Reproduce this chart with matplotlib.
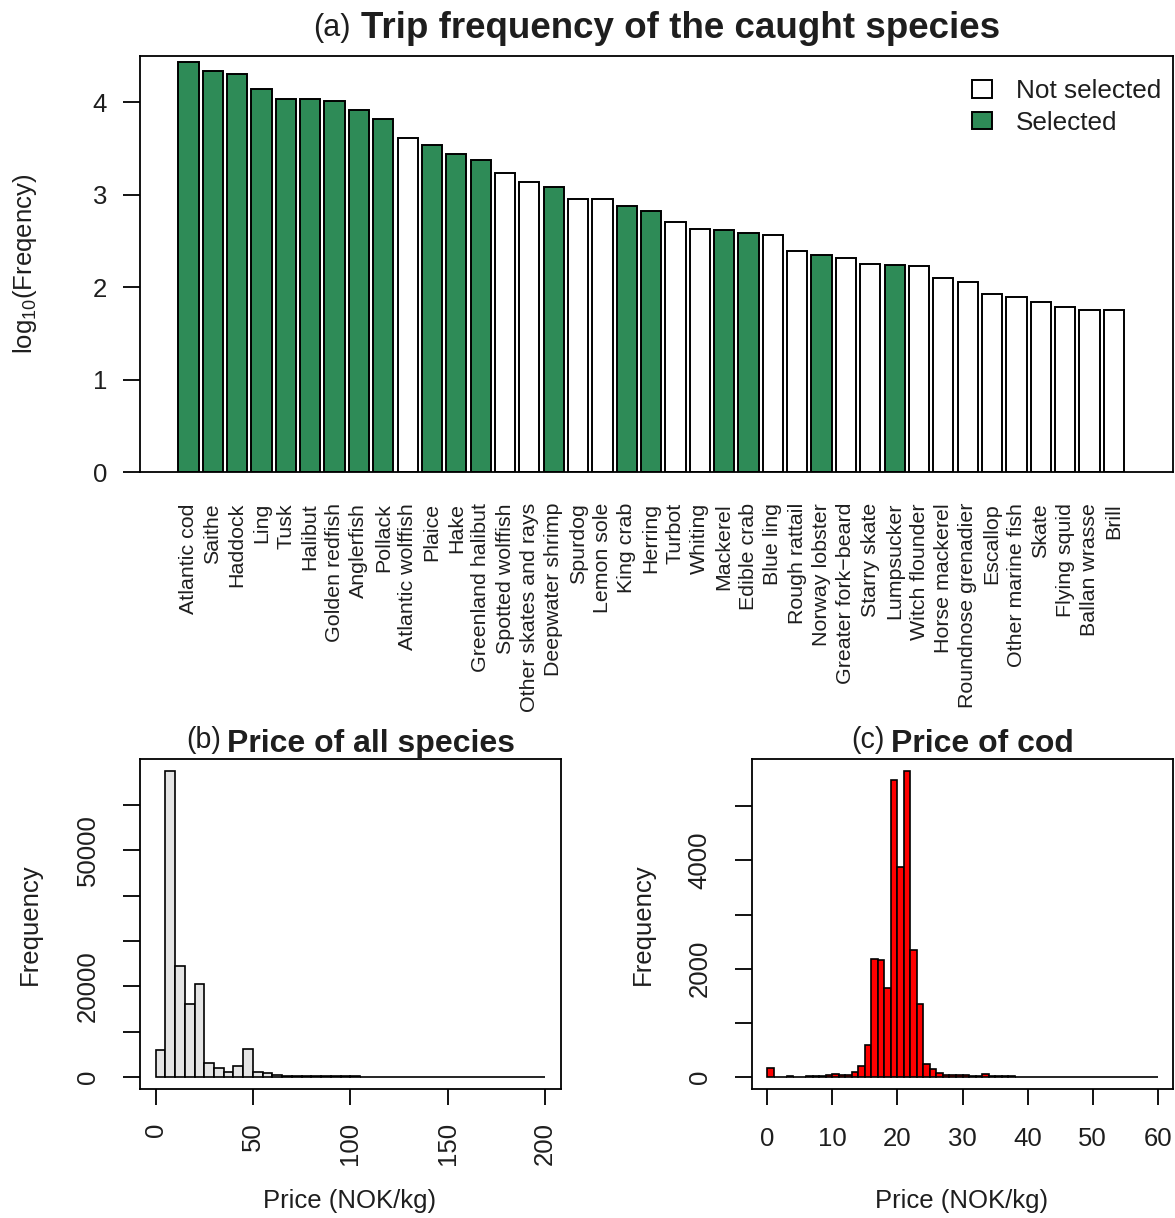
import numpy as np
import matplotlib
matplotlib.use('Agg')
import matplotlib.pyplot as plt
from matplotlib.patches import Patch

# ---------------- data ----------------
species = ["Atlantic cod", "Saithe", "Haddock", "Ling", "Tusk", "Halibut",
           "Golden redfish", "Anglerfish", "Pollack", "Atlantic wolffish",
           "Plaice", "Hake", "Greenland halibut", "Spotted wolffish",
           "Other skates and rays", "Deepwater shrimp", "Spurdog", "Lemon sole",
           "King crab", "Herring", "Turbot", "Whiting", "Mackerel", "Edible crab",
           "Blue ling", "Rough rattail", "Norway lobster", "Greater fork\u2212beard",
           "Starry skate", "Lumpsucker", "Witch flounder", "Horse mackerel",
           "Roundnose grenadier", "Escallop", "Other marine fish", "Skate",
           "Flying squid", "Ballan wrasse", "Brill"]
log_freq = [4.43, 4.34, 4.30, 4.14, 4.04, 4.03, 4.01, 3.92, 3.82, 3.61,
            3.54, 3.44, 3.37, 3.23, 3.14, 3.08, 2.95, 2.95, 2.88, 2.82,
            2.70, 2.63, 2.62, 2.58, 2.56, 2.39, 2.35, 2.32, 2.25, 2.24,
            2.23, 2.10, 2.06, 1.93, 1.89, 1.84, 1.78, 1.75, 1.75]
selected = [1, 1, 1, 1, 1, 1, 1, 1, 1, 0,
            1, 1, 1, 0, 0, 1, 0, 0, 1, 1,
            0, 0, 1, 1, 0, 0, 1, 0, 0, 1,
            0, 0, 0, 0, 0, 0, 0, 0, 0]
legend_labels = ["Not selected", "Selected"]

all_edges = list(range(0, 205, 5))
all_counts = [5860, 67400, 24540, 16040, 20510, 3150, 2050, 1030, 2340, 6080,
              1170, 800, 350, 280, 250, 200, 180, 220, 150, 160,
              200, 100, 120, 90, 80, 70, 60, 60, 50, 50,
              40, 40, 40, 35, 30, 30, 40, 120, 50, 40]

cod_edges = list(range(0, 61, 1))
cod_counts = [172, 5, 10, 12, 8, 10, 12, 15, 20, 30,
              55, 30, 40, 88, 197, 590, 2185, 2155, 1640, 5490,
              3870, 5645, 2350, 1345, 248, 155, 80, 37, 30, 45,
              35, 28, 22, 65, 20, 15, 12, 12, 10, 10,
              10, 9, 8, 8, 8, 7, 7, 6, 6, 6,
              6, 5, 5, 5, 5, 4, 4, 4, 4, 4]

all_yticks = [0, 10000, 20000, 30000, 40000, 50000, 60000]
all_yticklabels = ["0", "", "20000", "", "", "50000", ""]
all_xticks = [0, 50, 100, 150, 200]
cod_yticks = [0, 1000, 2000, 3000, 4000, 5000]
cod_yticklabels = ["0", "", "2000", "", "4000", ""]
cod_xticks = [0, 10, 20, 30, 40, 50, 60]

# ---------------- style ----------------
plt.rcParams['font.family'] = ['Liberation Sans', 'DejaVu Sans']
plt.rcParams['mathtext.fontset'] = 'custom'
plt.rcParams['mathtext.rm'] = 'Liberation Sans'
plt.rcParams['mathtext.it'] = 'Liberation Sans:italic'
plt.rcParams['mathtext.bf'] = 'Liberation Sans:bold'
TXT = '#1e1e1e'
GREEN = '#2E8B57'
W, H = 1175, 1218
PX = 0.72  # points per pixel at 100 dpi

fig = plt.figure(figsize=(W / 100, H / 100), dpi=100)


def axpos(l, t, r, b):
    return [l / W, 1 - b / H, (r - l) / W, (b - t) / H]


def style_spines(ax):
    for s in ax.spines.values():
        s.set_linewidth(1.3)
        s.set_color('black')


# ---------------- panel (a) ----------------
axA = fig.add_axes(axpos(140, 56, 1173, 472))
xpos = np.arange(len(species))
cols = [GREEN if s else 'white' for s in selected]
axA.bar(xpos, log_freq, width=0.83, color=cols, edgecolor='black', linewidth=1.4)
axA.set_xlim(-1.99, 40.43)
axA.set_ylim(0, 4.5)
axA.set_xticks(xpos)
axA.set_xticklabels(species, rotation=90, fontsize=15.4, color=TXT)
axA.tick_params(axis='x', length=0, pad=31 * PX)
axA.set_yticks([0, 1, 2, 3, 4])
axA.tick_params(axis='y', length=17 * PX, width=1.3, labelsize=18.5,
                labelcolor=TXT, pad=16 * PX)
style_spines(axA)
handles = [Patch(facecolor='white', edgecolor='black', linewidth=1.4),
           Patch(facecolor=GREEN, edgecolor='black', linewidth=1.4)]
axA.legend(handles, legend_labels, loc='upper left',
           bbox_to_anchor=((972 - 140) / 1033, (472 - 79) / 416),
           frameon=False, fontsize=18.8, handlelength=0.77, handleheight=0.65,
           handletextpad=0.9, borderpad=0, borderaxespad=0, labelspacing=0.3,
           labelcolor=TXT)
fig.text(25 / W, 1 - 264 / H, r'log$_{10}$(Freqency)', rotation=90,
         ha='center', va='center', fontsize=18.5, color=TXT)

# ---------------- panel (b) ----------------
axB = fig.add_axes(axpos(140, 759, 560.7, 1089.3))
axB.hist(all_edges[:-1], bins=all_edges, weights=all_counts,
         color='#E5E5E5', edgecolor='black', linewidth=1.2)
mB = max(all_counts)
axB.set_ylim(-0.04 * mB, 1.04 * mB)
rB = all_edges[-1] - all_edges[0]
axB.set_xlim(all_edges[0] - 0.04 * rB, all_edges[-1] + 0.04 * rB)
axB.set_yticks(all_yticks)
axB.set_yticklabels(all_yticklabels)
axB.set_xticks(all_xticks)
axB.tick_params(axis='y', labelrotation=90, length=17 * PX, width=1.3,
                labelsize=18.5, labelcolor=TXT, pad=23 * PX)
axB.tick_params(axis='x', labelrotation=90, length=16 * PX, width=1.3,
                labelsize=18.5, labelcolor=TXT, pad=17 * PX)
for lab in axB.get_yticklabels():
    lab.set_va('center')
style_spines(axB)
fig.text(30 / W, 1 - 924 / H, 'Frequency', rotation=90,
         ha='center', va='center', fontsize=18.5, color=TXT)
fig.text(350 / W, 1 - 1201 / H, 'Price (NOK/kg)', ha='center', va='center',
         fontsize=18.5, color=TXT)

# ---------------- panel (c) ----------------
axC = fig.add_axes(axpos(751.7, 759, 1173.3, 1089.3))
axC.hist(cod_edges[:-1], bins=cod_edges, weights=cod_counts,
         color='#FF0000', edgecolor='black', linewidth=1.2)
mC = max(cod_counts)
axC.set_ylim(-0.04 * mC, 1.04 * mC)
rC = cod_edges[-1] - cod_edges[0]
axC.set_xlim(cod_edges[0] - 0.04 * rC, cod_edges[-1] + 0.04 * rC)
axC.set_yticks(cod_yticks)
axC.set_yticklabels(cod_yticklabels)
axC.set_xticks(cod_xticks)
axC.tick_params(axis='y', labelrotation=90, length=17 * PX, width=1.3,
                labelsize=18.5, labelcolor=TXT, pad=23 * PX)
axC.tick_params(axis='x', length=16 * PX, width=1.3,
                labelsize=18.5, labelcolor=TXT, pad=22 * PX)
for lab in axC.get_yticklabels():
    lab.set_va('center')
style_spines(axC)
fig.text(643 / W, 1 - 924 / H, 'Frequency', rotation=90,
         ha='center', va='center', fontsize=18.5, color=TXT)
fig.text(962 / W, 1 - 1201 / H, 'Price (NOK/kg)', ha='center', va='center',
         fontsize=18.5, color=TXT)

# ---------------- titles ----------------
renderer = fig.canvas.get_renderer()


def two_part_title(ax, left, right, lsize, rsize, base_px, lbase_px, gap_px):
    t1 = fig.text(0, 0, left, fontsize=lsize, va='baseline', ha='left', color=TXT)
    t2 = fig.text(0, 0, right, fontsize=rsize, fontweight='bold',
                  va='baseline', ha='left', color=TXT)
    w1 = t1.get_window_extent(renderer).width
    w2 = t2.get_window_extent(renderer).width
    bb = ax.get_position()
    cx = (bb.x0 + bb.x1) / 2 * W
    x0 = cx - (w1 + gap_px + w2) / 2
    t1.set_position((x0 / W, 1 - lbase_px / H))
    t2.set_position(((x0 + w1 + gap_px) / W, 1 - base_px / H))


two_part_title(axA, '(a)', 'Trip frequency of the caught species', 22, 26.5, 38, 36, 10)
two_part_title(axB, '(b)', 'Price of all species', 20.6, 23, 752, 748, 6)
two_part_title(axC, '(c)', 'Price of cod', 20.6, 23, 752, 748, 6)

fig.savefig('out.png', dpi=100)
